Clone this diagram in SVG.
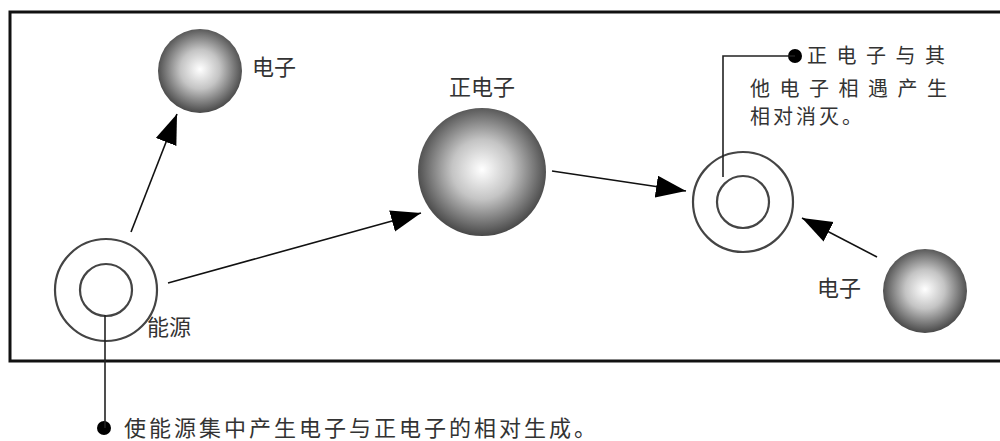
<svg xmlns="http://www.w3.org/2000/svg" width="1000" height="441" viewBox="0 0 1000 441">
<style>
.lbl{font-family:"Noto Sans CJK SC","Noto Sans",sans-serif;font-size:22px;fill:#333}
.note{font-family:"Noto Sans CJK SC","Noto Sans",sans-serif;font-size:20px;fill:#333}
.ring{fill:none;stroke:#444;stroke-width:2.2}
.conn{stroke:#111;stroke-width:1.6;fill:none}
.lead{stroke:#222;stroke-width:1.6;fill:none}
.sphere{fill:url(#sg)}
</style>
<defs>
<radialGradient id="sg" cx="50%" cy="48%" r="52%">
<stop offset="0" stop-color="#ffffff"/>
<stop offset="0.45" stop-color="#c4c4c4"/>
<stop offset="1" stop-color="#484848"/>
</radialGradient>
<marker id="ah" markerUnits="userSpaceOnUse" markerWidth="32" markerHeight="24" refX="30" refY="11" orient="auto">
<path d="M0,0 L30,11 L0,22 z" fill="#000"/>
</marker>
</defs>
<rect x="0" y="0" width="1000" height="441" fill="#fff"/>
<path d="M1002,12 H10 V361 H1002" fill="none" stroke="#111" stroke-width="3"/>

<g id="electron1">
<circle class="sphere" cx="200" cy="71" r="42"/>
<text class="lbl" x="252" y="75">电子</text>
</g>
<g id="positron">
<circle class="sphere" cx="482" cy="172" r="64"/>
<text class="lbl" x="449" y="95">正电子</text>
</g>
<g id="source">
<circle class="ring" cx="106" cy="290" r="51"/>
<circle class="ring" cx="106" cy="290" r="26"/>
<text class="lbl" x="147" y="335">能源</text>
</g>
<g id="annihilation">
<circle class="ring" cx="743" cy="202" r="50"/>
<circle class="ring" cx="743" cy="202" r="26"/>
</g>
<g id="electron2">
<circle class="sphere" cx="925" cy="291" r="42"/>
<text class="lbl" x="817" y="296">电子</text>
</g>
<g id="note-top">
<circle cx="795" cy="56" r="7" fill="#000"/>
<text class="note" x="807" y="63" letter-spacing="9.5">正电子与其</text>
<text class="note" x="750" y="96" letter-spacing="9.5">他电子相遇产生</text>
<text class="note" x="750" y="124" letter-spacing="3">相对消灭。</text>
</g>
<g id="note-bottom">
<circle cx="104" cy="428" r="7" fill="#000"/>
<text class="lbl" x="124" y="436" letter-spacing="3">使能源集中产生电子与正电子的相对生成。</text>
</g>
<g id="connectors">
<line class="conn" x1="131" y1="232" x2="177" y2="114" marker-end="url(#ah)"/>
<line class="conn" x1="168" y1="283" x2="421" y2="213" marker-end="url(#ah)"/>
<line class="conn" x1="552" y1="171" x2="686" y2="191" marker-end="url(#ah)"/>
<line class="conn" x1="877" y1="257" x2="802" y2="218" marker-end="url(#ah)"/>
<path class="lead" d="M723,177 V56 H795"/>
<path class="lead" d="M105,315 V428"/>
</g>
</svg>
